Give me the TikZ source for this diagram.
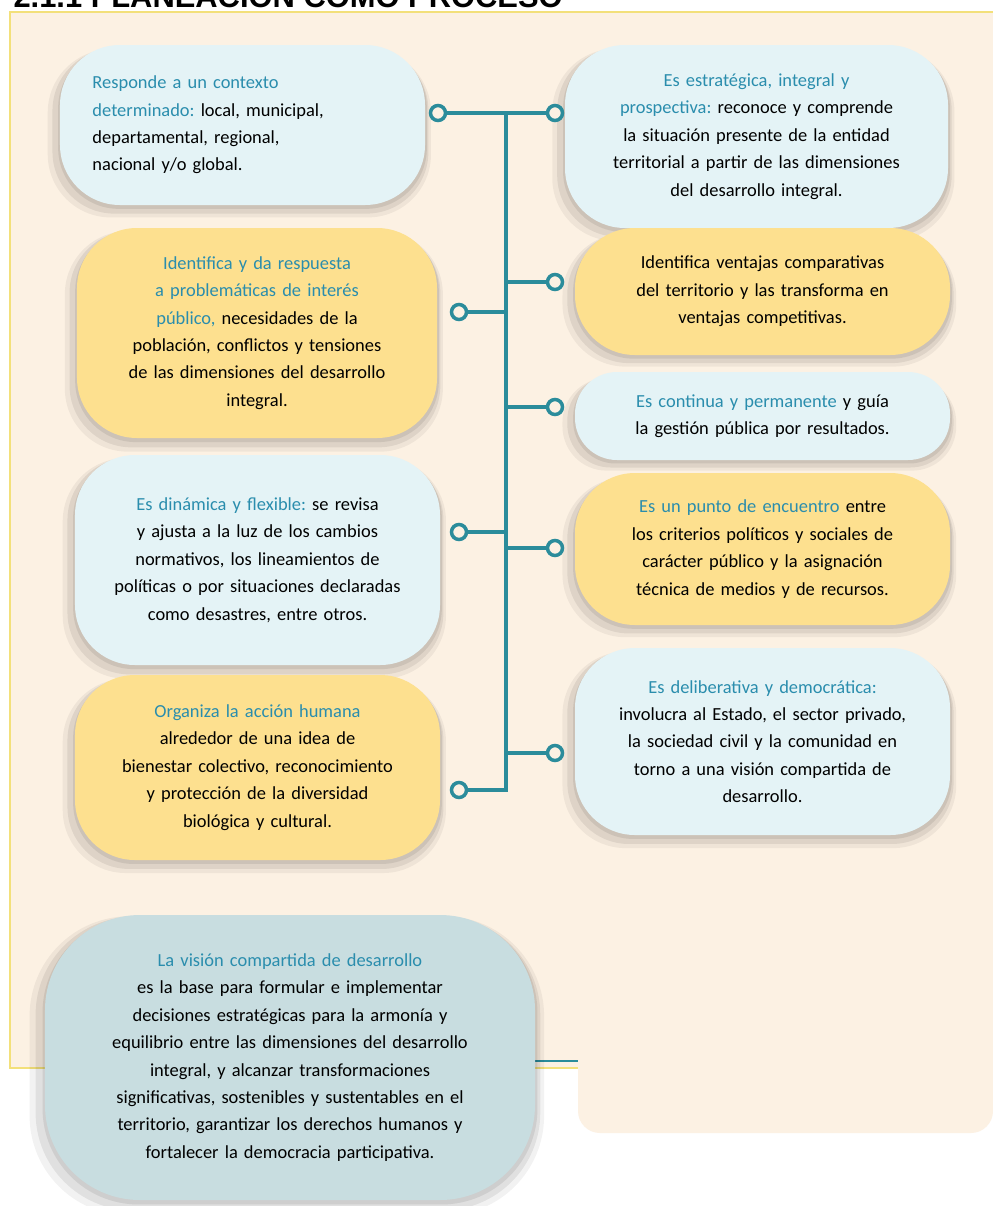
\documentclass[tikz,border=0pt]{standalone}
\usepackage{fontspec}
\setmainfont{Carlito}
\newfontfamily\titlefont{Liberation Sans}
\usepackage{tikz}
\usetikzlibrary{shadows,positioning}
\definecolor{crema}{HTML}{FCF1E3}
\definecolor{azulclaro}{HTML}{E4F3F6}
\definecolor{amarillo}{HTML}{FDE08F}
\definecolor{grisazul}{HTML}{C8DDE0}
\definecolor{verdeazul}{HTML}{2B8C9B}
\definecolor{tituloazul}{HTML}{2A8DAD}
\definecolor{borde}{HTML}{F3E07A}
\newcommand{\azul}[1]{\textcolor{tituloazul}{#1}}
\frenchspacing

\begin{document}
\begin{tikzpicture}[x=1bp,y=-1bp]
\tikzstyle{caja}=[rectangle, rounded corners=60bp, inner sep=0pt, align=center, font=\fontsize{18.5}{27.5}\selectfont,
  general shadow={fill=black, opacity=.05, shadow scale=1.05, shadow xshift=-3bp, shadow yshift=-8bp},
  general shadow={fill=black, opacity=.07, shadow scale=1.03, shadow xshift=-2bp, shadow yshift=-6bp},
  general shadow={fill=black, opacity=.08, shadow scale=1.01, shadow yshift=-3bp}]
\tikzstyle{cajaazul}=[caja, fill=azulclaro]
\tikzstyle{cajaamarilla}=[caja, fill=amarillo]
\tikzstyle{punto}=[circle, draw=verdeazul, line width=3.5bp, fill=crema, minimum size=15bp, inner sep=0pt]
\tikzstyle{enlace}=[draw=verdeazul, line width=4bp]
\useasboundingbox (0,0) rectangle (993,1206);
\fill[white] (0,0) rectangle (993,1206);
% marco de fondo
\fill[crema] (10,12) rectangle (993,1068);
\draw[borde, line width=2bp] (580,1068) -- (10,1068) -- (10,12) -- (993,12);
\draw[verdeazul, line width=1.5bp] (530,1061) -- (580,1061);
\fill[crema] (578,940) [rounded corners=22bp] rectangle (993,1133);
\node[anchor=base west, font=\titlefont\bfseries\fontsize{31}{31}\selectfont] (titulo) at (10,7) {2.1.1 PLANEACIÓN COMO PROCESO};

% cajas izquierda
\node[cajaazul, align=left, text width=300bp, minimum width=365bp, minimum height=160bp] (contexto) at (242.5,125)
  {\azul{Responde a un contexto}\\ \azul{determinado:} local, municipal,\\ departamental, regional,\\ nacional y/o global.};
\node[cajaamarilla, text width=330bp, minimum width=360bp, minimum height=210bp] (problemas) at (257,333)
  {\azul{Identifica y da respuesta}\\ \azul{a problemáticas de interés}\\ \azul{público,} necesidades de la\\ población, conflictos y tensiones\\ de las dimensiones del desarrollo\\ integral.};
\node[cajaazul, text width=330bp, minimum width=365bp, minimum height=210bp] (dinamica) at (257.5,560)
  {\azul{Es dinámica y flexible:} se revisa\\ y ajusta a la luz de los cambios\\ normativos, los lineamientos de\\ políticas o por situaciones declaradas\\ como desastres, entre otros.};
\node[cajaamarilla, text width=330bp, minimum width=365bp, minimum height=185bp] (organiza) at (257.5,767.5)
  {\azul{Organiza la acción humana}\\ alrededor de una idea de\\ bienestar colectivo, reconocimiento\\ y protección de la diversidad\\ biológica y cultural.};

% cajas derecha
\node[cajaazul, text width=350bp, minimum width=383bp, minimum height=183bp] (estrategica) at (756.5,136.5)
  {\azul{Es estratégica, integral y}\\ \azul{prospectiva:} reconoce y comprende\\ la situación presente de la entidad\\ territorial a partir de las dimensiones\\ del desarrollo integral.};
\node[cajaamarilla, text width=350bp, minimum width=375bp, minimum height=127bp] (ventajas) at (762.5,291.5)
  {Identifica ventajas comparativas\\ del territorio y las transforma en\\ ventajas competitivas.};
\node[cajaazul, rounded corners=42bp, text width=350bp, minimum width=375bp, minimum height=88bp] (continua) at (762.5,416)
  {\azul{Es continua y permanente} y guía\\ la gestión pública por resultados.};
\node[cajaamarilla, text width=350bp, minimum width=375bp, minimum height=152bp] (encuentro) at (762.5,549)
  {\azul{Es un punto de encuentro} entre\\ los criterios políticos y sociales de\\ carácter público y la asignación\\ técnica de medios y de recursos.};
\node[cajaazul, text width=350bp, minimum width=375bp, minimum height=187bp] (deliberativa) at (762.5,741.5)
  {\azul{Es deliberativa y democrática:}\\ involucra al Estado, el sector privado,\\ la sociedad civil y la comunidad en\\ torno a una visión compartida de\\ desarrollo.};

% caja inferior
\node[caja, fill=grisazul, rounded corners=95bp, text width=450bp, minimum width=490bp, minimum height=285bp] (vision) at (290,1057.5)
  {\azul{La visión compartida de desarrollo}\\ es la base para formular e implementar\\ decisiones estratégicas para la armonía y\\ equilibrio entre las dimensiones del desarrollo\\ integral, y alcanzar transformaciones\\ significativas, sostenibles y sustentables en el\\ territorio, garantizar los derechos humanos y\\ fortalecer la democracia participativa.};

% eje central
\coordinate (eje1) at (506,113);
\coordinate (eje2) at (506,282);
\coordinate (eje3) at (506,312);
\coordinate (eje4) at (506,407);
\coordinate (eje5) at (506,532);
\coordinate (eje6) at (506,548);
\coordinate (eje7) at (506,753);
\coordinate (eje8) at (506,790);
\node[punto] (p1) at (438,113) {};
\node[punto] (p2) at (555,113) {};
\node[punto] (p3) at (555,282) {};
\node[punto] (p4) at (459,312) {};
\node[punto] (p5) at (555,407) {};
\node[punto] (p6) at (459,532) {};
\node[punto] (p7) at (555,548) {};
\node[punto] (p8) at (555,753) {};
\node[punto] (p9) at (459,790) {};
\draw[enlace] (p1) -- (p2);
\draw[enlace, line cap=rect] (eje1) -- (eje8) -- (p9);
\draw[enlace] (eje2) -- (p3);
\draw[enlace] (eje3) -- (p4);
\draw[enlace] (eje4) -- (p5);
\draw[enlace] (eje5) -- (p6);
\draw[enlace] (eje6) -- (p7);
\draw[enlace] (eje7) -- (p8);
\end{tikzpicture}
\end{document}
